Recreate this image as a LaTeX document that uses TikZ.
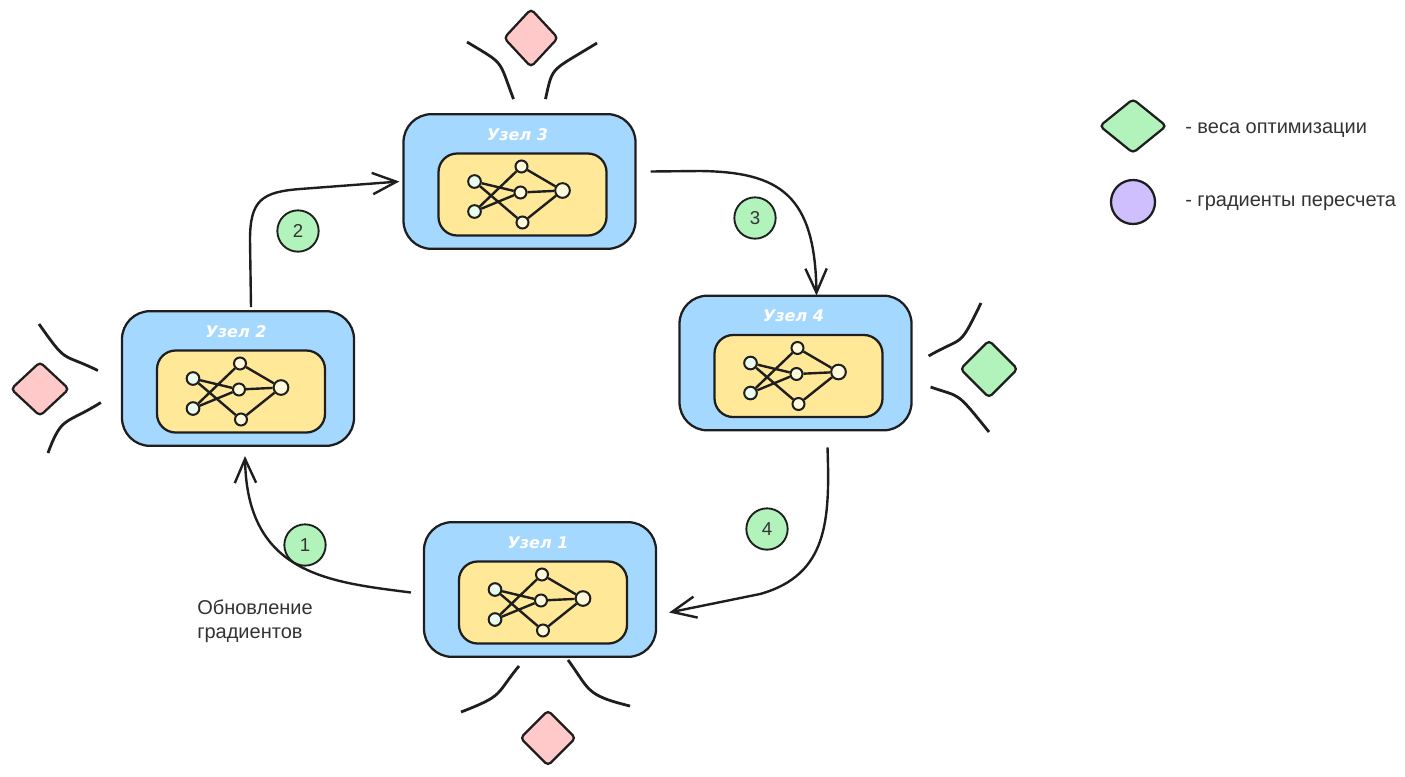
\documentclass[tikz,border=0pt]{standalone}
\usepackage{fontspec}
\setmainfont{Liberation Sans}
\newfontfamily\handfont{DejaVu Sans}
\usetikzlibrary{positioning}
\usetikzlibrary{arrows.meta}
\usetikzlibrary{calc}
\usetikzlibrary{shapes.geometric}
\definecolor{inkcol}{HTML}{1E1E1E}
\definecolor{textcol}{HTML}{333333}
\definecolor{bluecol}{HTML}{A5D8FF}
\definecolor{yellowcol}{HTML}{FFE999}
\definecolor{greencol}{HTML}{B2F2BB}
\definecolor{redcol}{HTML}{FFC9C9}
\definecolor{violetcol}{HTML}{D0BFFF}
\definecolor{inpcol}{HTML}{EBFBEE}
\definecolor{hidcol}{HTML}{FFF9DB}
\tikzset{
	outerbox/.style={draw=inkcol, fill=bluecol, line width=1.7pt, rounded corners=21pt, minimum width=174pt, minimum height=101pt, inner sep=0pt},
	innerbox/.style={draw=inkcol, fill=yellowcol, line width=1.7pt, rounded corners=14pt, minimum width=126pt, minimum height=61.5pt, inner sep=0pt},
	inpdot/.style={circle, draw=inkcol, fill=inpcol, line width=1.5pt, minimum size=9.5pt, inner sep=0pt},
	hiddot/.style={circle, draw=inkcol, fill=hidcol, line width=1.5pt, minimum size=9pt, inner sep=0pt},
	outdot/.style={circle, draw=inkcol, fill=hidcol, line width=1.5pt, minimum size=11pt, inner sep=0pt},
	netline/.style={draw=inkcol, line width=1.8pt},
	flowline/.style={draw=inkcol, line width=1.8pt, -{Straight Barb[length=18pt,width=16pt]}},
	funnel/.style={draw=inkcol, line width=2.1pt},
	weight/.style={diamond, draw=inkcol, line width=1.7pt, rounded corners=3pt, inner sep=0pt},
	numdot/.style={circle, draw=inkcol, fill=greencol, line width=1.4pt, minimum size=31pt, inner sep=0pt, text=textcol, font=\fontsize{14}{16}\selectfont},
	caption/.style={text=textcol, font=\fontsize{15}{18}\selectfont, inner sep=0pt},
	nodename/.style={text=white, font=\handfont\itshape\bfseries\fontsize{12}{14}\selectfont, inner sep=0pt}
}
\begin{document}
\begin{tikzpicture}[x=0.75pt, y=-0.75pt]
	\useasboundingbox (0,0) rectangle (1405,776);

	% Four nodes, each with a small network inside
	\foreach \i/\cx/\cy in {1/540/589.5, 2/238/378.5, 3/519.5/181.5, 4/795.5/363}
		{\node[outerbox] (u\i) at (\cx,\cy) {};
		\node[innerbox] (b\i) at ($(u\i)+(3,13)$) {};
		\node[nodename] (n\i) at ($(u\i)+(-2,-47)$) {Узел \i};
		\node[inpdot] (p\i) at ($(u\i)+(-45,0)$) {};
		\node[inpdot] (q\i) at ($(u\i)+(-45,30)$) {};
		\node[hiddot] (r\i) at ($(u\i)+(2,-15)$) {};
		\node[hiddot] (s\i) at ($(u\i)+(1,11)$) {};
		\node[hiddot] (t\i) at ($(u\i)+(3,41)$) {};
		\node[outdot] (v\i) at ($(u\i)+(43,9)$) {};
		\draw[netline] (p\i) -- (s\i) (p\i) -- (t\i) (q\i) -- (r\i) (q\i) -- (s\i);
		\draw[netline] (r\i) -- (v\i) (s\i) -- (v\i) (t\i) -- (v\i);}

	% Weights around the nodes
	\node[weight, fill=redcol, minimum width=41pt, minimum height=44pt] (w3) at (531,38) {};
	\node[weight, fill=redcol, minimum width=44pt, minimum height=41pt] (w2) at (40,389) {};
	\node[weight, fill=greencol, minimum size=43.5pt] (w4) at (989,369) {};
	\node[weight, fill=redcol, minimum size=42pt] (w1) at (548,738) {};

	% Funnels
	\coordinate (f3a) at (467,42);
	\coordinate (f3b) at (597,43);
	\coordinate (f2a) at (39,324);
	\coordinate (f2b) at (48,453);
	\coordinate (f4a) at (981,303);
	\coordinate (f4b) at (989,432);
	\coordinate (f1a) at (461,712);
	\coordinate (f1b) at (630,706);
	\draw[funnel] (f3a) .. controls (505,65) and (498,58) .. ($(u3.north)+(-6,-14)$);
	\draw[funnel] (f3b) .. controls (550,72) and (553,65) .. ($(u3.north)+(26,-14)$);
	\draw[funnel] (f2a) .. controls (68,365) and (60,352) .. ($(u2.west)+(-23,-8)$);
	\draw[funnel] (f2b) .. controls (62,415) and (65,425) .. ($(u2.west)+(-20,24)$);
	\draw[funnel] (f4a) .. controls (958,350) and (965,335) .. ($(u4.east)+(16,-7)$);
	\draw[funnel] (f4b) .. controls (955,390) and (962,398) .. ($(u4.east)+(18,24)$);
	\draw[funnel] (f1a) .. controls (505,695) and (495,695) .. ($(u1.south)+(-21,8)$);
	\draw[funnel] (f1b) .. controls (585,695) and (590,690) .. ($(u1.south)+(28,2)$);

	% Ring of updates
	\draw[flowline] ($(u1.west)+(-12,3)$) .. controls (330,582) and (247,575) .. ($(u2.south)+(7,9)$);
	\draw[flowline] ($(u2.north)+(13,-3)$) -- (250,240) .. controls (250,200) and (262,192) .. (300,189) -- ($(u3.west)+(-3,0)$);
	\draw[flowline] ($(u3.east)+(14,-10)$) -- (700,171) .. controls (780,172) and (815,195) .. ($(u4.north)+(21,1)$);
	\draw[flowline] ($(u4.south)+(32,16)$) .. controls (830,520) and (828,575) .. (760,594) -- ($(u1.east)+(12,23)$);

	\node[numdot] (c1) at (305,545) {1};
	\node[numdot] (c2) at (298,231) {2};
	\node[numdot] (c3) at (755,218) {3};
	\node[numdot] (c4) at (767,529) {4};

	\node[caption, anchor=north west, align=left] (upd) at (197,600) {Обновление\\градиентов};

	% Legend
	\node[weight, fill=greencol, minimum width=50.5pt, minimum height=41pt] (lw) at (1133,126) {};
	\node[circle, draw=inkcol, fill=violetcol, line width=1.7pt, minimum size=33pt, inner sep=0pt] (lg) at (1133,202) {};
	\node[caption, anchor=west] (lwt) at (1185,130) {- веса оптимизации};
	\node[caption, anchor=west] (lgt) at (1185,203) {- градиенты пересчета};
\end{tikzpicture}
\end{document}
